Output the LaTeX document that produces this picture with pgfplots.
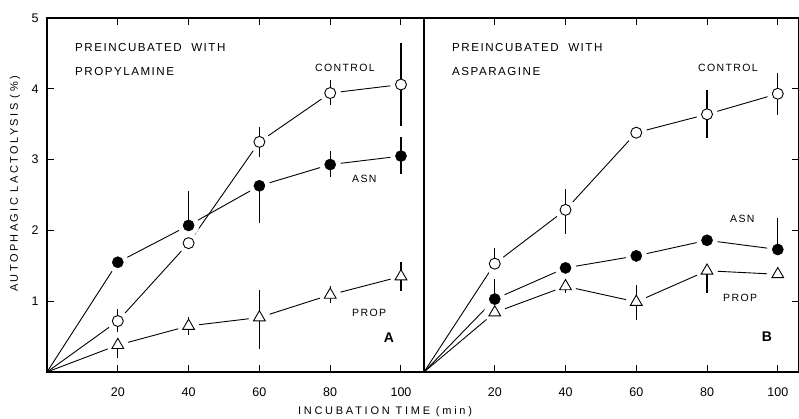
\documentclass[border=0pt]{standalone}
\usepackage{fontspec}
\setmainfont{Liberation Sans}
\newfontfamily\spaced[LetterSpace=13]{Liberation Sans}
\newfontfamily\wide[LetterSpace=25]{Liberation Sans}
\newfontfamily\widey[LetterSpace=22]{Liberation Sans}
\usepackage{pgfplots}
\pgfplotsset{compat=1.18}
\usepackage{pgfplotstable}

% panel A: preincubated with propylamine
\pgfplotstableread{
x y ep em
0 0 0 0
20 0.72 0.17 0.15
40 1.82 0 0
60 3.25 0.21 0.22
80 3.94 0.18 0.17
100 4.06 0.58 0.58
}\ctrlA
\pgfplotstableread{
x y ep em
0 0 0 0
20 1.55 0 0
40 2.07 0.49 0
60 2.63 0.05 0.52
80 2.93 0.19 0.18
100 3.05 0.27 0.25
}\asnA
\pgfplotstableread{
x y ep em
0 0 0 0
20 0.38 0.05 0.18
40 0.65 0.13 0.13
60 0.77 0.39 0.44
80 1.09 0.12 0.12
100 1.35 0.21 0.21
}\propA
% panel B: preincubated with asparagine
\pgfplotstableread{
x y ep em
0 0 0 0
20 1.53 0.22 0
40 2.29 0.30 0.34
60 3.38 0 0
80 3.64 0.34 0.34
100 3.93 0.29 0.30
}\ctrlB
\pgfplotstableread{
x y ep em
0 0 0 0
20 1.03 0.28 0
40 1.47 0 0
60 1.64 0.08 0.08
80 1.86 0 0
100 1.73 0.44 0
}\asnB
\pgfplotstableread{
x y ep em
0 0 0 0
20 0.84 0 0
40 1.21 0.10 0.10
60 0.99 0.24 0.25
80 1.43 0 0.32
100 1.38 0 0
}\propB

\pgfplotsset{
  panel/.style={
    scale only axis, height=354pt,
    ymin=0, ymax=5, xmin=0,
    axis line style={line width=1.1pt},
    tick align=inside, major tick length=7pt,
    tick style={line width=1pt, black},
    xtick={20,40,60,80,100}, xtick pos=both,
    ytick={1,2,3,4,5},
    /pgf/number format/assume math mode=true,
    ticklabel style={font=\fontsize{12.5}{12.5}\selectfont},
    xticklabel style={yshift=-12pt},
    clip=false, clip marker paths=true,
  },
  dataline/.style={black, line width=0.9pt, mark=none},
  gapmark/.style={only marks, mark=*, mark size=10.5pt, mark options={draw=white, fill=white}, skip coords between index={0}{1}},
  ebar/.style={draw=none, mark=none, skip coords between index={0}{1},
    error bars/.cd, y dir=both, y explicit, error mark=none,
    error bar style={draw=black, line width=1.1pt, solid}},
  opencirc/.style={only marks, mark=*, mark size=5.5pt, mark options={draw=black, fill=white, line width=0.9pt}, skip coords between index={0}{1}},
  fillcirc/.style={only marks, mark=*, mark size=5.6pt, mark options={draw=black, fill=black}, skip coords between index={0}{1}},
  tri/.style={only marks, mark=triangle*, mark size=6.8pt, mark options={draw=black, fill=white, line width=0.9pt}, skip coords between index={0}{1}},
}

\newcommand{\drawpanel}[3]{%
  \addplot[dataline] table[x=x,y=y] {#1};
  \addplot[dataline] table[x=x,y=y] {#2};
  \addplot[dataline] table[x=x,y=y] {#3};
  \addplot[gapmark] table[x=x,y=y] {#1};
  \addplot[gapmark] table[x=x,y=y] {#2};
  \addplot[gapmark] table[x=x,y=y] {#3};
  \addplot[ebar] table[x=x,y=y,y error plus=ep,y error minus=em] {#1};
  \addplot[ebar] table[x=x,y=y,y error plus=ep,y error minus=em] {#2};
  \addplot[ebar] table[x=x,y=y,y error plus=ep,y error minus=em] {#3};
  \addplot[opencirc] table[x=x,y=y] {#1};
  \addplot[fillcirc] table[x=x,y=y] {#2};
  \addplot[tri] table[x=x,y=y] {#3};
}

\begin{document}
\begin{tikzpicture}
\path[use as bounding box] (0,0) rectangle (799pt,419pt);

\begin{axis}[panel, at={(47pt,47pt)}, anchor=south west,
  width=377pt, xmax=106.5, ytick pos=left,
  yticklabel style={xshift=-5pt}]
\drawpanel{\ctrlA}{\asnA}{\propA}
\end{axis}

\begin{axis}[panel, at={(424pt,47pt)}, anchor=south west,
  width=375pt, xmax=106, ytick pos=right, yticklabels={}]
\drawpanel{\ctrlB}{\asnB}{\propB}
\end{axis}

\begin{scope}[every node/.style={inner sep=0pt, text=black}]
\node[anchor=west, font=\spaced\fontsize{11.6}{11.6}\selectfont] at (75pt,371pt) {PREINCUBATED\ \ WITH};
\node[anchor=west, font=\spaced\fontsize{11.6}{11.6}\selectfont] at (75pt,347pt) {PROPYLAMINE};
\node[anchor=west, font=\spaced\fontsize{10.5}{10.5}\selectfont] at (315pt,351pt) {CONTROL};
\node[anchor=west, font=\spaced\fontsize{10.5}{10.5}\selectfont] at (352pt,240pt) {ASN};
\node[anchor=west, font=\spaced\fontsize{10.5}{10.5}\selectfont] at (352pt,106pt) {PROP};
\node[font=\bfseries\fontsize{14}{14}\selectfont] at (389pt,81pt) {A};

\node[anchor=west, font=\spaced\fontsize{11.6}{11.6}\selectfont] at (452pt,371pt) {PREINCUBATED\ \ WITH};
\node[anchor=west, font=\spaced\fontsize{11.6}{11.6}\selectfont] at (452pt,347pt) {ASPARAGINE};
\node[anchor=west, font=\spaced\fontsize{10.5}{10.5}\selectfont] at (698pt,351pt) {CONTROL};
\node[anchor=west, font=\spaced\fontsize{10.5}{10.5}\selectfont] at (730pt,200pt) {ASN};
\node[anchor=west, font=\spaced\fontsize{10.5}{10.5}\selectfont] at (723pt,121pt) {PROP};
\node[font=\bfseries\fontsize{14}{14}\selectfont] at (767pt,82pt) {B};

\node[rotate=90, font=\widey\fontsize{11}{11}\selectfont] at (15pt,235pt) {AUTOPHAGIC LACTOLYSIS (\%)};
\node[font=\wide\fontsize{11}{11}\selectfont] at (385pt,7pt) {INCUBATION TIME (min)};
\end{scope}
\end{tikzpicture}
\end{document}
